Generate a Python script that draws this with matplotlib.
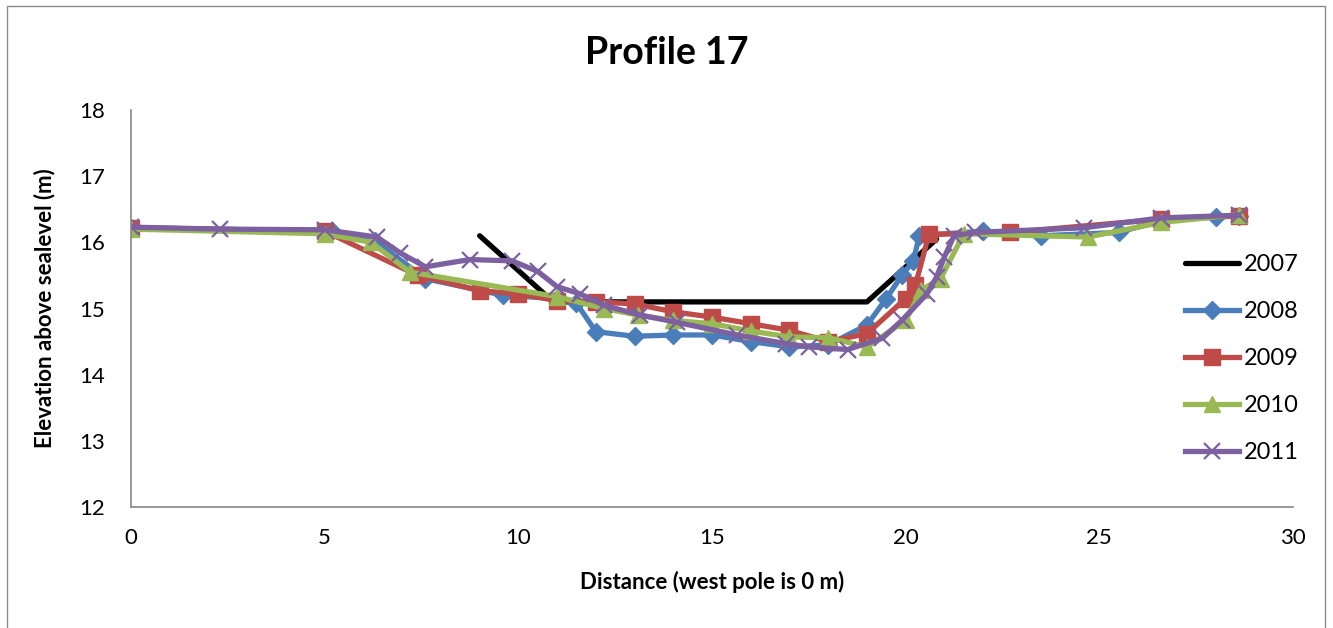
import matplotlib
matplotlib.use("Agg")
import matplotlib.pyplot as plt
from matplotlib.patches import Rectangle

plt.rcParams['font.family'] = ['Lato', 'DejaVu Sans']

# Survey profiles: distance from west pole (m) and elevation (m)
x2007 = [9.0, 10.9, 19.0, 20.8]
y2007 = [16.1, 15.1, 15.1, 16.05]

x2008 = [0, 5.2, 6.3, 7.6, 9.6, 11.0, 11.5, 12.0, 13.0, 14.0, 15.0, 16.0, 17.0,
         18.0, 19.0, 19.5, 19.9, 20.2, 20.35, 22.0, 23.5, 25.5, 26.6, 28.0, 28.6]
y2008 = [16.22, 16.17, 16.02, 15.45, 15.2, 15.15, 15.08, 14.65, 14.58, 14.6, 14.6,
         14.5, 14.42, 14.45, 14.75, 15.15, 15.5, 15.72, 16.1, 16.17, 16.1, 16.15,
         16.33, 16.38, 16.4]

x2009 = [0, 5.0, 7.4, 9.0, 10.0, 11.0, 12.0, 13.0, 14.0, 15.0, 16.0, 17.0, 18.0,
         19.0, 20.0, 20.25, 20.6, 22.7, 26.6, 28.6]
y2009 = [16.22, 16.17, 15.5, 15.27, 15.22, 15.12, 15.1, 15.07, 14.95, 14.87, 14.77,
         14.67, 14.5, 14.62, 15.15, 15.35, 16.12, 16.15, 16.35, 16.4]

x2010 = [0, 5.0, 6.2, 7.2, 11.0, 12.2, 13.1, 14.0, 15.0, 16.0, 17.0, 18.0, 19.0, 20.0,
         20.4, 20.9, 21.5, 24.7, 26.6, 28.6]
y2010 = [16.2, 16.13, 16.0, 15.55, 15.18, 15.0, 14.9, 14.82, 14.77, 14.66, 14.57, 14.56,
         14.42, 14.82, 15.28, 15.45, 16.13, 16.08, 16.3, 16.42]

x2011 = [0, 2.3, 5.0, 6.35, 6.95, 7.6, 8.75, 9.84, 10.5, 11.0, 11.6, 12.2, 13.15,
         14.1, 15.65, 16.9, 17.5, 18.5, 19.4, 19.9, 20.55, 20.8, 21.0, 21.25, 21.8,
         24.6, 26.6, 28.6]
y2011 = [16.23, 16.2, 16.19, 16.08, 15.84, 15.63, 15.74, 15.72, 15.56, 15.33, 15.22,
         15.05, 14.9, 14.79, 14.6, 14.47, 14.42, 14.38, 14.55, 14.82, 15.22, 15.48,
         15.78, 16.1, 16.15, 16.22, 16.37, 16.41]

years = ["2007", "2008", "2009", "2010", "2011"]
colors = ["#000000", "#4A7EBB", "#BE4B48", "#98B954", "#7D60A0"]

x_ticks = [0, 5, 10, 15, 20, 25, 30]
y_ticks = [12, 13, 14, 15, 16, 17, 18]

fig = plt.figure(figsize=(13.33, 6.28), dpi=100)
fig.patches.append(Rectangle((0.005, -0.01), 0.989, 1.0, transform=fig.transFigure,
                             fill=False, edgecolor="#8C8C8C", linewidth=1.0))
ax = fig.add_axes([0.0983, 0.1927, 0.8717, 0.6321])

lw = 3.8
ax.plot(x2007, y2007, color=colors[0], lw=lw, label=years[0], solid_capstyle='round')
ax.plot(x2008, y2008, color=colors[1], lw=lw, marker='D', ms=9, label=years[1])
ax.plot(x2009, y2009, color=colors[2], lw=lw, marker='s', ms=11, label=years[2])
ax.plot(x2010, y2010, color=colors[3], lw=lw, marker='^', ms=12, label=years[3])
ax.plot(x2011, y2011, color=colors[4], lw=lw, marker='x', ms=11, mew=1.6, label=years[4])

ax.set_xlim(0, 30)
ax.set_ylim(12, 18)
ax.set_xticks(x_ticks)
ax.set_yticks(y_ticks)
ax.tick_params(axis='both', labelsize=16, length=0)
ax.tick_params(axis='x', pad=15)
ax.tick_params(axis='y', pad=19)
for s in ['top', 'right']:
    ax.spines[s].set_visible(False)
for s in ['left', 'bottom']:
    ax.spines[s].set_color("#868686")
    ax.spines[s].set_linewidth(1.2)

fig.text(0.5, 1 - 53 / 628, "Profile 17", fontsize=27, fontweight='bold',
         ha='center', va='center')
ax.set_xlabel("Distance (west pole is 0 m)", fontsize=16, fontweight='bold', labelpad=17)
ax.set_ylabel("Elevation above sealevel (m)", fontsize=16, fontweight='bold', labelpad=17)

ax.legend(loc='upper left', bbox_to_anchor=(0.882, 0.61), bbox_transform=fig.transFigure,
          frameon=False, fontsize=17, handlelength=2.3, handletextpad=0.2,
          labelspacing=1.1, borderaxespad=0)

fig.savefig("out.png", dpi=100)
